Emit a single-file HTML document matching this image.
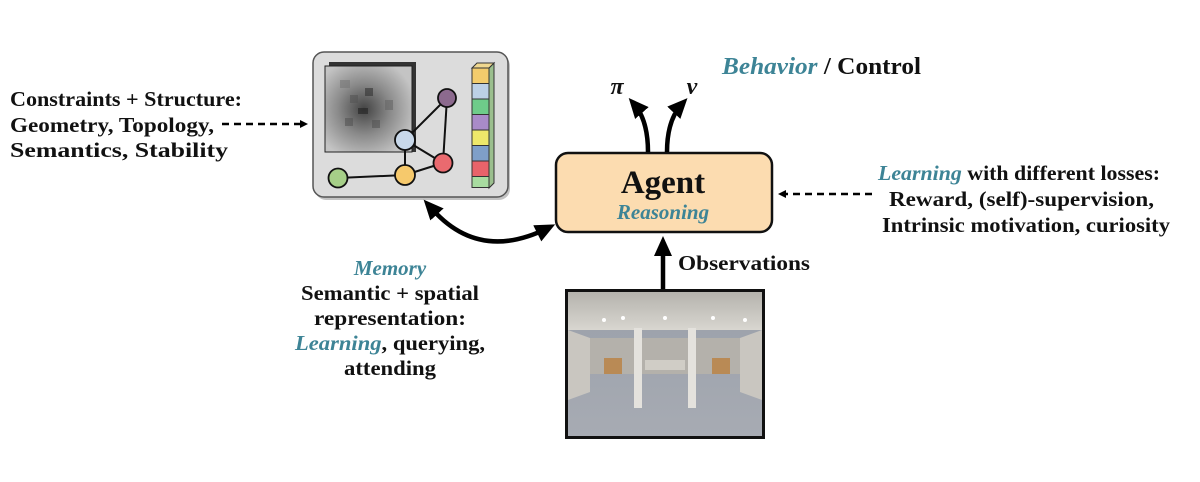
<!DOCTYPE html>
<html><head><meta charset="utf-8"><style>
html,body{margin:0;padding:0;background:#fff;}
svg{display:block;}
text{font-family:"Liberation Serif",serif;font-weight:bold;fill:#111;}
.t{fill:#3d8496;font-style:italic;}
</style></head><body>
<svg width="1200" height="482" viewBox="0 0 1200 482" xmlns="http://www.w3.org/2000/svg">
<defs>
<marker id="ah" markerWidth="8" markerHeight="8" refX="6" refY="4" orient="auto" markerUnits="userSpaceOnUse"><path d="M0,0 L8,4 L0,8 z" fill="#000"/></marker>
<marker id="big" markerWidth="20" markerHeight="18" refX="12" refY="9" orient="auto" markerUnits="userSpaceOnUse"><path d="M0,0 L20,9 L0,18 z" fill="#000"/></marker>
<marker id="bigs" markerWidth="20" markerHeight="18" refX="6" refY="9" orient="auto-start-reverse" markerUnits="userSpaceOnUse"><path d="M0,0 L20,9 L0,18 z" fill="#000"/></marker>
<linearGradient id="floor" x1="0" y1="0" x2="0" y2="1"><stop offset="0" stop-color="#9aa0aa"/><stop offset="1" stop-color="#a7abb3"/></linearGradient>
<linearGradient id="ceil" x1="0" y1="0" x2="0" y2="1"><stop offset="0" stop-color="#b5b3ad"/><stop offset="1" stop-color="#d8d6d0"/></linearGradient>
<radialGradient id="blur" cx="0.45" cy="0.5" r="0.6"><stop offset="0" stop-color="#444"/><stop offset="0.5" stop-color="#8a8a8a"/><stop offset="1" stop-color="#c4c4c4"/></radialGradient>
</defs>

<text x="10" y="106" font-size="21" textLength="232" lengthAdjust="spacingAndGlyphs">Constraints + Structure:</text>
<text x="10" y="132" font-size="21" textLength="204" lengthAdjust="spacingAndGlyphs">Geometry, Topology,</text>
<text x="10" y="157" font-size="21" textLength="218" lengthAdjust="spacingAndGlyphs">Semantics, Stability</text>
<line x1="222" y1="124" x2="306" y2="124" stroke="#000" stroke-width="2.5" stroke-dasharray="7,5" marker-end="url(#ah)"/>

<rect x="315" y="55" width="195" height="145" rx="11" fill="#888" opacity="0.5"/>
<rect x="313" y="52" width="195" height="145" rx="11" fill="#dcdcdc" stroke="#555" stroke-width="1.5"/>
<rect x="329" y="62" width="87" height="90" fill="#333"/>
<rect x="325" y="66" width="87" height="86" fill="url(#blur)" stroke="#222" stroke-width="1"/>
<g fill="#555" opacity="0.6"><rect x="350" y="95" width="8" height="8"/><rect x="365" y="88" width="8" height="8" fill="#333"/><rect x="358" y="108" width="10" height="6" fill="#222"/><rect x="345" y="118" width="8" height="8"/><rect x="372" y="120" width="8" height="8"/><rect x="340" y="80" width="10" height="8" fill="#777"/><rect x="385" y="100" width="8" height="10" fill="#666"/></g>
<g stroke="#111" stroke-width="2">
<line x1="405" y1="140" x2="447" y2="98"/><line x1="447" y1="98" x2="443" y2="163"/>
<line x1="405" y1="140" x2="443" y2="163"/><line x1="405" y1="140" x2="405" y2="175"/>
<line x1="405" y1="175" x2="443" y2="163"/><line x1="338" y1="178" x2="405" y2="175"/>
</g>
<g stroke="#111" stroke-width="1.8">
<circle cx="447" cy="98" r="9" fill="#8c6a8e"/>
<circle cx="405" cy="140" r="10" fill="#c8d8ea"/>
<circle cx="443" cy="163" r="9.5" fill="#ea6a6f"/>
<circle cx="405" cy="175" r="10" fill="#f6c96c"/>
<circle cx="338" cy="178" r="9.5" fill="#a6cf88"/>
</g>
<g stroke="#333" stroke-width="1">
<rect x="472" y="68" width="17" height="15.5" fill="#f3cc6c"/>
<rect x="472" y="83.5" width="17" height="15.5" fill="#bcd0e6"/>
<rect x="472" y="99" width="17" height="15.5" fill="#6ecc8a"/>
<rect x="472" y="114.5" width="17" height="15.5" fill="#a98bc8"/>
<rect x="472" y="130" width="17" height="15.5" fill="#eee86a"/>
<rect x="472" y="145.5" width="17" height="15.5" fill="#7f9fc8"/>
<rect x="472" y="161" width="17" height="15.5" fill="#e8636a"/>
<rect x="472" y="176.5" width="17" height="11" fill="#a8dca0"/>
<path d="M489,68 L494,63 L494,183 L489,188 z" fill="#9bbf8e"/>
<path d="M472,68 L477,63 L494,63 L489,68 z" fill="#f0d890"/>
</g>

<text x="390" y="275" font-size="21" text-anchor="middle" class="t">Memory</text>
<text x="390" y="300" font-size="21" text-anchor="middle" textLength="178" lengthAdjust="spacingAndGlyphs">Semantic + spatial</text>
<text x="390" y="325" font-size="21" text-anchor="middle" textLength="152" lengthAdjust="spacingAndGlyphs">representation:</text>
<text x="390" y="350" font-size="21" text-anchor="middle" textLength="190" lengthAdjust="spacingAndGlyphs"><tspan class="t">Learning</tspan>, querying,</text>
<text x="390" y="375" font-size="21" text-anchor="middle" textLength="92" lengthAdjust="spacingAndGlyphs">attending</text>

<path d="M433,210 Q480,262 548,228" fill="none" stroke="#000" stroke-width="4.5" marker-start="url(#bigs)" marker-end="url(#big)"/>

<rect x="556" y="153" width="216" height="79" rx="12" fill="#fcdcb0" stroke="#111" stroke-width="2.5"/>
<text x="663" y="193" font-size="33" text-anchor="middle">Agent</text>
<text x="663" y="219" font-size="21" text-anchor="middle" class="t">Reasoning</text>

<path d="M648,152 Q648,120 634,104" fill="none" stroke="#000" stroke-width="4.5" marker-end="url(#big)"/>
<path d="M667,152 Q667,120 682,104" fill="none" stroke="#000" stroke-width="4.5" marker-end="url(#big)"/>
<text x="617" y="94" font-size="24" font-style="italic" text-anchor="middle">π</text>
<text x="692" y="94" font-size="24" font-style="italic" text-anchor="middle">ν</text>
<text x="722" y="74" font-size="24" textLength="199" lengthAdjust="spacingAndGlyphs"><tspan class="t">Behavior</tspan> / Control</text>

<text x="1160" y="180" font-size="21" text-anchor="end" textLength="282" lengthAdjust="spacingAndGlyphs"><tspan class="t">Learning</tspan> with different losses:</text>
<text x="1154" y="206" font-size="21" text-anchor="end" textLength="265" lengthAdjust="spacingAndGlyphs">Reward, (self)-supervision,</text>
<text x="1170" y="232" font-size="21" text-anchor="end" textLength="288" lengthAdjust="spacingAndGlyphs">Intrinsic motivation, curiosity</text>
<line x1="872" y1="194" x2="780" y2="194" stroke="#000" stroke-width="2.5" stroke-dasharray="7,5" marker-end="url(#ah)"/>

<line x1="663" y1="289" x2="663" y2="244" stroke="#000" stroke-width="4.5" marker-end="url(#big)"/>
<text x="678" y="270" font-size="21" textLength="132" lengthAdjust="spacingAndGlyphs">Observations</text>

<rect x="565" y="289" width="200" height="150" fill="#111"/>
<rect x="568" y="292" width="194" height="144" fill="url(#floor)"/>
<rect x="568" y="292" width="194" height="38" fill="url(#ceil)"/>
<polygon points="568,330 590,338 590,392 568,400" fill="#c9c6c0"/>
<polygon points="762,330 740,338 740,392 762,400" fill="#c9c6c0"/>
<rect x="590" y="338" width="150" height="36" fill="#b4b1ab"/>
<rect x="604" y="358" width="18" height="16" fill="#b98a55"/>
<rect x="712" y="358" width="18" height="16" fill="#b98a55"/>
<rect x="645" y="360" width="40" height="10" fill="#d0cdc6"/>
<rect x="634" y="328" width="8" height="80" fill="#e4e2dd"/>
<rect x="688" y="328" width="8" height="80" fill="#e4e2dd"/>
<g fill="#fff"><circle cx="604" cy="320" r="2"/><circle cx="623" cy="318" r="2"/><circle cx="665" cy="318" r="2"/><circle cx="713" cy="318" r="2"/><circle cx="745" cy="320" r="2"/></g>
</svg>
</body></html>
